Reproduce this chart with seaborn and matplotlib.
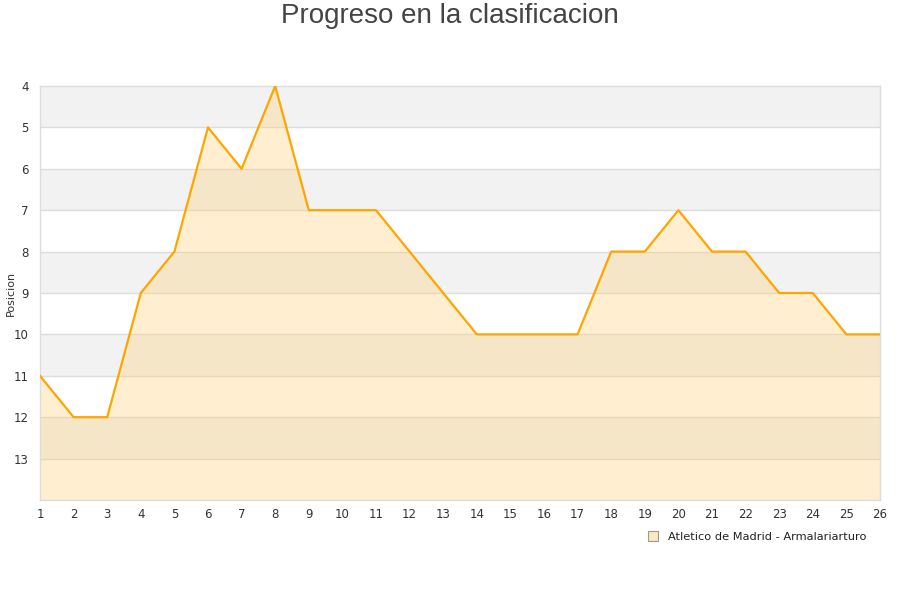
import matplotlib
matplotlib.use("Agg")
import matplotlib.pyplot as plt
import seaborn as sns
import pandas as pd
from matplotlib.lines import Line2D

jornadas = list(range(1, 27))
posicion = [11, 12, 12, 9, 8, 5, 6, 4, 7, 7, 7, 8, 9, 10, 10, 10, 10, 8, 8, 7, 8, 8, 9, 9, 10, 10]
team = "Atletico de Madrid - Armalariarturo"
y_ticks = [4, 5, 6, 7, 8, 9, 10, 11, 12, 13]

df = pd.DataFrame({"Jornada": jornadas, "Posicion": posicion})

sns.set_theme(style="white")
plt.rcParams['font.family'] = ['DejaVu Sans']

fig = plt.figure(figsize=(9, 6), dpi=100)
ax = fig.add_axes([40/900, 1-500/600, 840/900, 414/600])

ymin, ymax = 4, 14
for k in range(ymin, ymax):
    if (k - ymin) % 2 == 0:
        ax.axhspan(k, k + 1, color="#f2f2f2", zorder=0, lw=0)
for k in range(ymin + 1, ymax):
    ax.axhline(k, color="#dddddd", lw=1, zorder=1)

ax.fill_between(df["Jornada"], df["Posicion"], ymax, color="#ffd07a", alpha=0.35, lw=0, zorder=2)
sns.lineplot(data=df, x="Jornada", y="Posicion", ax=ax, color="#ffa500", lw=1.6, zorder=3)

ax.set_xlim(1, 26)
ax.set_ylim(ymax, ymin)
ax.set_xticks(jornadas)
ax.set_yticks(y_ticks)
ax.tick_params(axis="both", labelsize=8.5, colors="#333333", length=0)
ax.tick_params(axis="x", pad=6)
ax.tick_params(axis="y", pad=8)
ax.set_xlabel("")
ax.set_ylabel("")
fig.text(11/900, 1-293/600, "Posicion", rotation=90, ha="center", va="center",
         fontsize=8, color="#333333")
for s in ax.spines.values():
    s.set_color("#dddddd")
    s.set_linewidth(1)

fig.text(0.5, 1-16/600, "Progreso en la clasificacion", ha="center", va="center",
         fontsize=20, color="#444444", family=["Liberation Sans"])

handle = Line2D([0], [0], marker="s", linestyle="none", markersize=6.5,
                markerfacecolor="#ffe6bf", markeredgecolor="#999999", markeredgewidth=0.8)
leg = fig.legend([handle], [team], loc="center", bbox_to_anchor=(757/900, 1-537/600),
                 frameon=False, fontsize=8.2, handletextpad=0.8, handlelength=1)
for t in leg.get_texts():
    t.set_color("#222222")

fig.savefig("out.png", dpi=100)
